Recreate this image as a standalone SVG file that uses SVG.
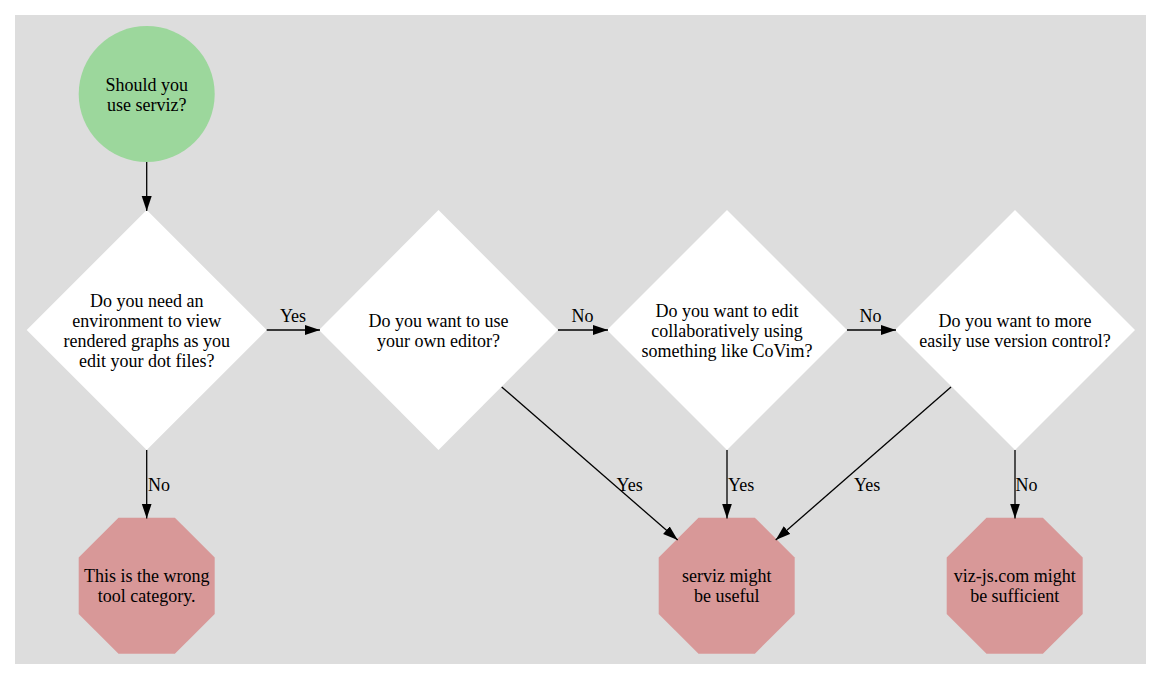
<svg xmlns="http://www.w3.org/2000/svg" width="1161" height="680" viewBox="0 0 1161 680">
<style>
text{font-family:"Liberation Serif","Times New Roman",serif;font-size:18px;fill:#000}
.c{text-anchor:middle}
.edge line{stroke:#000;stroke-width:1.3;fill:none;marker-end:url(#arr)}
.dia{fill:#fff}
.oct{fill:#d89898}
</style>
<defs>
<marker id="arr" markerUnits="userSpaceOnUse" markerWidth="16" markerHeight="11" refX="15" refY="5" orient="auto">
<path d="M0,0 L15,5 L0,10 z" fill="#000"/>
</marker>
</defs>
<rect x="0" y="0" width="1161" height="680" fill="#fff"/>
<rect x="15" y="15" width="1131" height="649" fill="#dddddd"/>

<g id="start">
<circle cx="146.7" cy="94" r="68" fill="#9cd79c"/>
<text class="c" x="146.7" y="90.5">Should you</text>
<text class="c" x="146.7" y="110.5">use serviz?</text>
</g>

<g id="q1">
<polygon class="dia" points="146.7,210 266.7,330 146.7,450 26.7,330"/>
<text class="c" x="146.7" y="306.5">Do you need an</text>
<text class="c" x="146.7" y="326.5">environment to view</text>
<text class="c" x="146.7" y="346.5">rendered graphs as you</text>
<text class="c" x="146.7" y="366.5">edit your dot files?</text>
</g>

<g id="q2">
<polygon class="dia" points="438.5,210 558,330 438.5,450 319,330"/>
<text class="c" x="438.5" y="326.5">Do you want to use</text>
<text class="c" x="438.5" y="346.5">your own editor?</text>
</g>

<g id="q3">
<polygon class="dia" points="727,210 847,330 727,450 607,330"/>
<text class="c" x="727" y="316.5">Do you want to edit</text>
<text class="c" x="727" y="336.5">collaboratively using</text>
<text class="c" x="727" y="356.5">something like CoVim?</text>
</g>

<g id="q4">
<polygon class="dia" points="1015,210 1135,330 1015,450 895,330"/>
<text class="c" x="1015" y="326.5">Do you want to more</text>
<text class="c" x="1015" y="346.5">easily use version control?</text>
</g>

<g id="wrong">
<polygon class="oct" points="118.5,517.7 174.9,517.7 214.7,557.5 214.7,613.9 174.9,653.7 118.5,653.7 78.7,613.9 78.7,557.5"/>
<text class="c" x="146.7" y="582">This is the wrong</text>
<text class="c" x="146.7" y="602">tool category.</text>
</g>

<g id="useful">
<polygon class="oct" points="698.5,517.7 754.9,517.7 794.7,557.5 794.7,613.9 754.9,653.7 698.5,653.7 658.7,613.9 658.7,557.5"/>
<text class="c" x="726.7" y="582">serviz might</text>
<text class="c" x="726.7" y="602">be useful</text>
</g>

<g id="sufficient">
<polygon class="oct" points="986.5,517.7 1042.9,517.7 1082.7,557.5 1082.7,613.9 1042.9,653.7 986.5,653.7 946.7,613.9 946.7,557.5"/>
<text class="c" x="1014.7" y="582">viz-js.com might</text>
<text class="c" x="1014.7" y="602">be sufficient</text>
</g>

<g id="connectors" class="edge">
<line x1="146.7" y1="162" x2="146.7" y2="211"/>
<line x1="266.7" y1="330" x2="320" y2="330"/>
<line x1="558" y1="330" x2="608" y2="330"/>
<line x1="847" y1="330" x2="896" y2="330"/>
<line x1="146.7" y1="450" x2="146.7" y2="518.5"/>
<line x1="501.7" y1="387" x2="677.7" y2="540"/>
<line x1="727" y1="450" x2="727" y2="518.5"/>
<line x1="951" y1="387" x2="775.7" y2="540"/>
<line x1="1015" y1="450" x2="1015" y2="518.5"/>
<text class="c" x="293" y="321.5">Yes</text>
<text class="c" x="582.5" y="321.5">No</text>
<text class="c" x="870.5" y="321.5">No</text>
<text x="148" y="490.5">No</text>
<text x="616.5" y="490.5">Yes</text>
<text x="728" y="490.5">Yes</text>
<text x="854" y="490.5">Yes</text>
<text x="1015.5" y="490.5">No</text>
</g>
</svg>
